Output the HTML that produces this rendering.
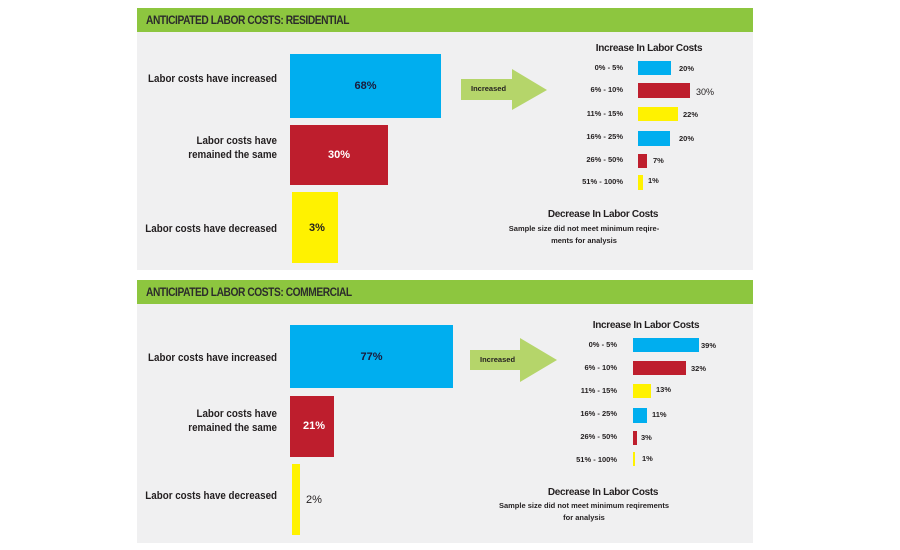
<!DOCTYPE html>
<html><head><meta charset="utf-8"><style>
*{margin:0;padding:0;box-sizing:border-box}
body{width:900px;height:550px;background:#fff;position:relative;overflow:hidden;font-family:"Liberation Sans",sans-serif;font-weight:bold;color:#231f20}
div{position:absolute}
.hdr{background:#8dc63f;left:137px;width:616px;height:24px;font-size:12px;line-height:24px;padding-left:9px;color:#2b2b2b}
.hdr span{display:inline-block;transform:scaleX(0.85);transform-origin:left;letter-spacing:-0.5px}
.bg{background:#f0f0f1;left:137px;width:616px}
.lab{font-size:11px;text-align:right;width:160px;left:117px;line-height:14px;transform:scaleX(0.89);transform-origin:right}
.bl{background:#00aeef}.rd{background:#be1e2d}.yl{background:#fff200}
.pct{font-size:11px;text-align:center;line-height:14px}
.sl{font-size:7.5px;text-align:right;width:60px;line-height:10px}
.sv{font-size:7.5px;line-height:10px}
.t{font-size:10px;text-align:center;width:200px;letter-spacing:-0.3px}
.s{font-size:7.5px;text-align:center;width:200px;line-height:12px}
.arr{font-size:7.5px;line-height:20px;padding-left:10px}
</style></head><body>
<div class="hdr" style="top:8px"><span>ANTICIPATED LABOR COSTS: RESIDENTIAL</span></div>
<div class="bg" style="top:32px;height:238px"></div>
<div class="lab" style="top:72px">Labor costs have increased</div>
<div class="lab" style="top:134px">Labor costs have<br>remained the same</div>
<div class="lab" style="top:222px">Labor costs have decreased</div>
<div class="bl" style="left:290px;top:54px;width:151px;height:64px"></div>
<div class="pct" style="left:290px;top:79px;width:151px;color:#1a1a3a">68%</div>
<div class="rd" style="left:290px;top:125px;width:98px;height:60px"></div>
<div class="pct" style="left:290px;top:148px;width:98px;color:#fff">30%</div>
<div class="yl" style="left:292px;top:192px;width:46px;height:71px"></div>
<div class="pct" style="left:292px;top:221px;width:50px">3%</div>
<svg style="position:absolute;left:461px;top:69px" width="88" height="42"><polygon points="0,10 51,10 51,0 86,21 51,41 51,31 0,31" fill="#b5d56a"/></svg>
<div class="arr" style="left:461px;top:79px">Increased</div>
<div class="t" style="left:549px;top:43px">Increase In Labor Costs</div>
<div class="sl" style="left:563px;top:63px">0% - 5%</div><div class="bl" style="left:638px;top:61px;width:33px;height:14px"></div><div class="sv" style="left:679px;top:64px">20%</div>
<div class="sl" style="left:563px;top:85px">6% - 10%</div><div class="rd" style="left:638px;top:83px;width:52px;height:15px"></div><div class="sv" style="left:696px;top:87px;font-size:9px;font-weight:normal">30%</div>
<div class="sl" style="left:563px;top:109px">11% - 15%</div><div class="yl" style="left:638px;top:107px;width:40px;height:14px"></div><div class="sv" style="left:683px;top:110px">22%</div>
<div class="sl" style="left:563px;top:132px">16% - 25%</div><div class="bl" style="left:638px;top:131px;width:32px;height:15px"></div><div class="sv" style="left:679px;top:134px">20%</div>
<div class="sl" style="left:563px;top:155px">26% - 50%</div><div class="rd" style="left:638px;top:154px;width:9px;height:14px"></div><div class="sv" style="left:653px;top:156px">7%</div>
<div class="sl" style="left:563px;top:177px">51% - 100%</div><div class="yl" style="left:638px;top:175px;width:5px;height:15px"></div><div class="sv" style="left:648px;top:176px">1%</div>
<div class="t" style="left:503px;top:209px">Decrease In Labor Costs</div>
<div class="s" style="left:484px;top:223px">Sample size did not meet minimum reqire-<br>ments for analysis</div>

<div class="hdr" style="top:280px"><span>ANTICIPATED LABOR COSTS: COMMERCIAL</span></div>
<div class="bg" style="top:304px;height:239px"></div>
<div class="lab" style="top:351px">Labor costs have increased</div>
<div class="lab" style="top:407px">Labor costs have<br>remained the same</div>
<div class="lab" style="top:489px">Labor costs have decreased</div>
<div class="bl" style="left:290px;top:325px;width:163px;height:63px"></div>
<div class="pct" style="left:290px;top:350px;width:163px;color:#1a1a3a">77%</div>
<div class="rd" style="left:290px;top:396px;width:44px;height:61px"></div>
<div class="pct" style="left:290px;top:419px;width:48px;color:#fff">21%</div>
<div class="yl" style="left:292px;top:464px;width:8px;height:71px"></div>
<div class="pct" style="left:304px;top:493px;width:20px;font-weight:normal">2%</div>
<svg style="position:absolute;left:470px;top:338px" width="90" height="46"><polygon points="0,12 50,12 50,0 87,22 50,44 50,32 0,32" fill="#b5d56a"/></svg>
<div class="arr" style="left:470px;top:350px">Increased</div>
<div class="t" style="left:546px;top:320px">Increase In Labor Costs</div>
<div class="sl" style="left:557px;top:340px">0% - 5%</div><div class="bl" style="left:633px;top:338px;width:66px;height:14px"></div><div class="sv" style="left:701px;top:341px">39%</div>
<div class="sl" style="left:557px;top:363px">6% - 10%</div><div class="rd" style="left:633px;top:361px;width:53px;height:14px"></div><div class="sv" style="left:691px;top:364px">32%</div>
<div class="sl" style="left:557px;top:386px">11% - 15%</div><div class="yl" style="left:633px;top:384px;width:18px;height:14px"></div><div class="sv" style="left:656px;top:385px">13%</div>
<div class="sl" style="left:557px;top:409px">16% - 25%</div><div class="bl" style="left:633px;top:408px;width:14px;height:15px"></div><div class="sv" style="left:652px;top:410px">11%</div>
<div class="sl" style="left:557px;top:432px">26% - 50%</div><div class="rd" style="left:633px;top:431px;width:4px;height:14px"></div><div class="sv" style="left:641px;top:433px">3%</div>
<div class="sl" style="left:557px;top:455px">51% - 100%</div><div class="yl" style="left:633px;top:452px;width:2px;height:14px"></div><div class="sv" style="left:642px;top:454px">1%</div>
<div class="t" style="left:503px;top:487px">Decrease In Labor Costs</div>
<div class="s" style="left:484px;top:500px">Sample size did not meet minimum reqirements<br>for analysis</div>
</body></html>
